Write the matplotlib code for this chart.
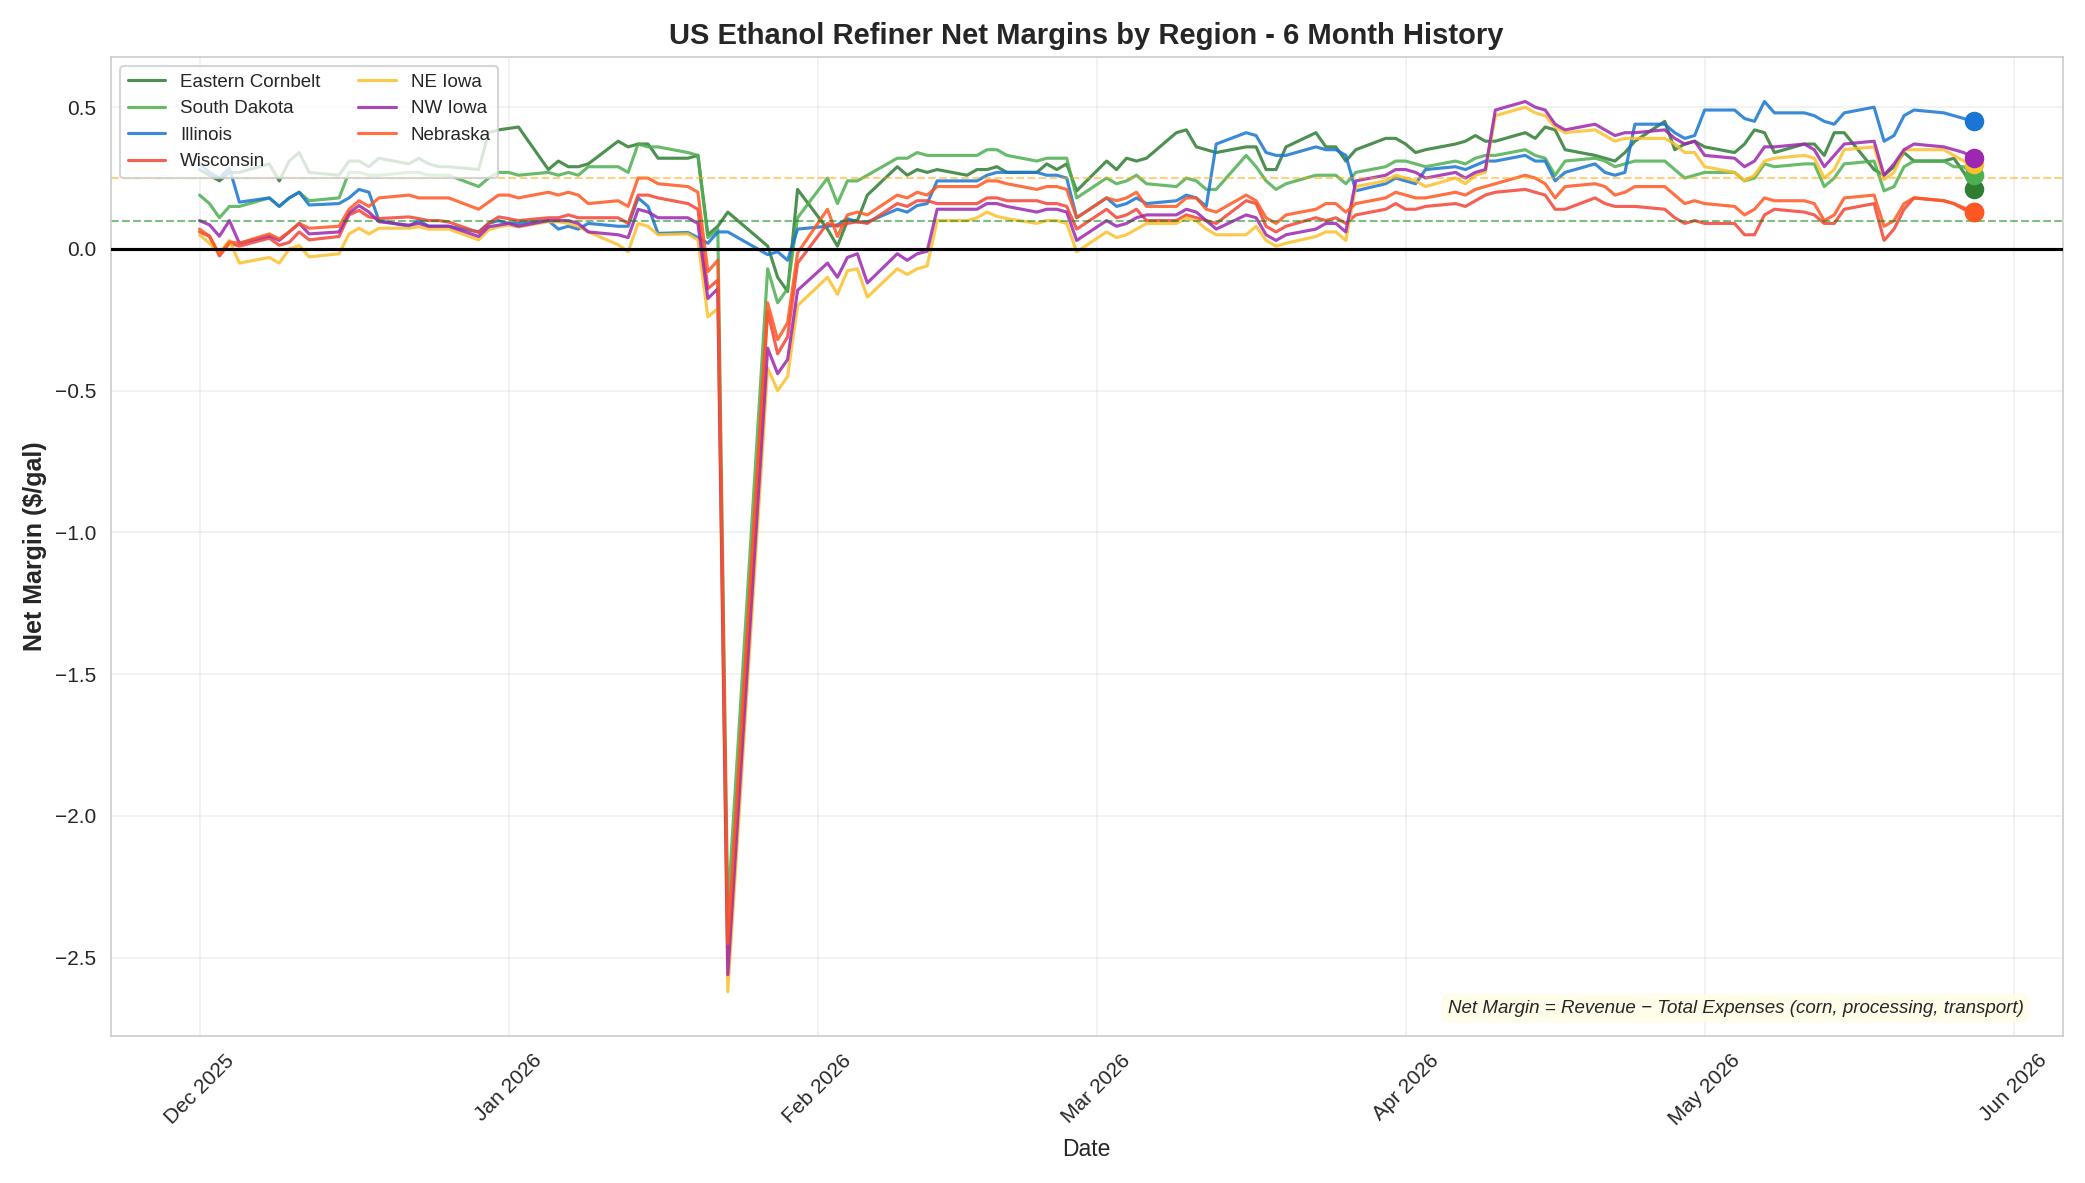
import numpy as np
import pandas as pd
import matplotlib
matplotlib.use("Agg")
import matplotlib.pyplot as plt
import matplotlib.dates as mdates
import seaborn as sns

# ---------------- data ----------------
dates = pd.bdate_range("2025-12-01", "2026-05-28").drop(pd.Timestamp("2026-01-26"))

regions = ["Eastern Cornbelt", "South Dakota", "Illinois", "Wisconsin",
           "NE Iowa", "NW Iowa", "Nebraska"]

eastern_cornbelt = [
    0.28, 0.26, 0.24, 0.27, 0.27,
    0.30, 0.24, 0.31, 0.34, 0.27,
    0.26, 0.31, 0.31, 0.29, 0.32,
    0.30, 0.32, 0.30, 0.29, 0.29,
    0.28, 0.41, 0.42, 0.425, 0.43,
    0.28, 0.31, 0.29, 0.29, 0.30,
    0.38, 0.36, 0.37, 0.37, 0.32,
    0.32, 0.33, 0.05, 0.08, 0.13,
    0.01, -0.10, -0.15, 0.21,
    0.07, 0.01, 0.10, 0.10, 0.19,
    0.29, 0.26, 0.28, 0.27, 0.28,
    0.26, 0.28, 0.28, 0.29, 0.27,
    0.27, 0.30, 0.28, 0.30, 0.205,
    0.31, 0.28, 0.32, 0.31, 0.32,
    0.41, 0.42, 0.36, 0.35, 0.34,
    0.36, 0.36, 0.28, 0.28, 0.36,
    0.41, 0.36, 0.36, 0.31, 0.35,
    0.39, 0.39, 0.37, 0.34, 0.35,
    0.37, 0.38, 0.40, 0.38, 0.38,
    0.41, 0.39, 0.43, 0.42, 0.35,
    0.33, 0.32, 0.31, 0.34, 0.38,
    0.45, 0.35, 0.37, 0.38, 0.36,
    0.34, 0.37, 0.42, 0.41, 0.34,
    0.37, 0.37, 0.33, 0.41, 0.41,
    0.28, 0.26, 0.29, 0.34, 0.31,
    0.31, 0.32, 0.27, 0.21,
]

south_dakota = [
    0.19, 0.16, 0.11, 0.15, 0.15,
    0.18, 0.15, 0.18, 0.20, 0.17,
    0.18, 0.27, 0.27, 0.26, 0.26,
    0.27, 0.27, 0.26, 0.26, 0.26,
    0.22, 0.25, 0.27, 0.27, 0.26,
    0.27, 0.26, 0.27, 0.26, 0.29,
    0.29, 0.27, 0.37, 0.36, 0.36,
    0.34, 0.33, 0.04, 0.07, -2.33,
    -0.07, -0.19, -0.14, 0.11,
    0.25, 0.16, 0.24, 0.24, 0.26,
    0.32, 0.32, 0.34, 0.33, 0.33,
    0.33, 0.33, 0.35, 0.35, 0.33,
    0.31, 0.32, 0.32, 0.32, 0.18,
    0.25, 0.23, 0.24, 0.26, 0.23,
    0.22, 0.25, 0.24, 0.21, 0.21,
    0.33, 0.29, 0.24, 0.21, 0.23,
    0.26, 0.26, 0.26, 0.23, 0.27,
    0.29, 0.31, 0.31, 0.30, 0.29,
    0.31, 0.30, 0.32, 0.33, 0.33,
    0.35, 0.33, 0.32, 0.26, 0.31,
    0.32, 0.31, 0.29, 0.30, 0.31,
    0.31, 0.28, 0.25, 0.26, 0.27,
    0.27, 0.24, 0.25, 0.30, 0.29,
    0.30, 0.30, 0.22, 0.25, 0.30,
    0.31, 0.205, 0.22, 0.29, 0.31,
    0.31, 0.29, 0.29, 0.26,
]

illinois = [
    0.30, 0.27, 0.25, 0.285, 0.165,
    0.18, 0.15, 0.18, 0.20, 0.155,
    0.16, 0.18, 0.21, 0.20, 0.10,
    0.08, 0.10, 0.08, 0.08, 0.08,
    0.06, 0.09, 0.10, 0.09, 0.09,
    0.10, 0.07, 0.08, 0.07, 0.09,
    0.08, 0.08, 0.18, 0.15, 0.055,
    0.058, 0.04, 0.02, 0.06, 0.06,
    -0.02, -0.01, -0.04, 0.07,
    0.08, 0.085, 0.107, 0.095, 0.095,
    0.14, 0.13, 0.153, 0.16, 0.24,
    0.24, 0.24, 0.26, 0.27, 0.27,
    0.27, 0.26, 0.26, 0.25, 0.11,
    0.18, 0.15, 0.16, 0.18, 0.16,
    0.17, 0.19, 0.18, 0.15, 0.37,
    0.41, 0.40, 0.34, 0.33, 0.33,
    0.36, 0.35, 0.35, 0.33, 0.205,
    0.23, 0.25, 0.24, 0.23, 0.28,
    0.29, 0.28, 0.295, 0.31, 0.31,
    0.33, 0.31, 0.31, 0.24, 0.27,
    0.30, 0.27, 0.26, 0.27, 0.44,
    0.44, 0.41, 0.39, 0.40, 0.49,
    0.49, 0.46, 0.45, 0.52, 0.48,
    0.48, 0.47, 0.45, 0.44, 0.48,
    0.50, 0.38, 0.40, 0.47, 0.49,
    0.48, 0.47, 0.46, 0.45,
]

wisconsin = [
    0.06, 0.045, -0.025, 0.02, 0.01,
    0.038, 0.013, 0.023, 0.06, 0.032,
    0.044, 0.12, 0.136, 0.113, 0.107,
    0.113, 0.107, 0.10, 0.10, 0.095,
    0.058, 0.09, 0.113, 0.107, 0.10,
    0.11, 0.11, 0.12, 0.11, 0.11,
    0.11, 0.09, 0.19, 0.19, 0.18,
    0.16, 0.14, -0.14, -0.11, -2.50,
    -0.22, -0.37, -0.31, -0.05,
    0.09, 0.08, 0.09, 0.096, 0.09,
    0.16, 0.15, 0.17, 0.17, 0.16,
    0.16, 0.16, 0.18, 0.18, 0.17,
    0.17, 0.16, 0.16, 0.15, 0.07,
    0.14, 0.11, 0.12, 0.14, 0.10,
    0.10, 0.12, 0.11, 0.10, 0.09,
    0.17, 0.16, 0.08, 0.06, 0.08,
    0.11, 0.10, 0.11, 0.09, 0.12,
    0.14, 0.16, 0.14, 0.14, 0.15,
    0.16, 0.15, 0.17, 0.19, 0.20,
    0.21, 0.20, 0.19, 0.14, 0.14,
    0.18, 0.16, 0.15, 0.15, 0.15,
    0.14, 0.11, 0.09, 0.10, 0.09,
    0.09, 0.05, 0.05, 0.12, 0.14,
    0.13, 0.12, 0.09, 0.09, 0.14,
    0.16, 0.03, 0.07, 0.14, 0.18,
    0.17, 0.16, 0.14, 0.13,
]

ne_iowa = [
    0.05, 0.02, -0.015, 0.03, -0.05,
    -0.03, -0.05, 0.0, 0.012, -0.028,
    -0.017, 0.053, 0.073, 0.053, 0.073,
    0.073, 0.078, 0.07, 0.07, 0.07,
    0.032, 0.067, 0.078, 0.084, 0.078,
    0.096, 0.096, 0.09, 0.08, 0.06,
    0.015, -0.01, 0.09, 0.08, 0.05,
    0.053, 0.032, -0.24, -0.21, -2.62,
    -0.42, -0.50, -0.45, -0.20,
    -0.10, -0.16, -0.077, -0.07, -0.17,
    -0.07, -0.09, -0.07, -0.06, 0.10,
    0.10, 0.11, 0.13, 0.115, 0.107,
    0.09, 0.10, 0.10, 0.09, -0.01,
    0.06, 0.04, 0.05, 0.07, 0.09,
    0.09, 0.11, 0.10, 0.07, 0.05,
    0.05, 0.08, 0.03, 0.01, 0.02,
    0.044, 0.06, 0.06, 0.03, 0.22,
    0.24, 0.26, 0.25, 0.24, 0.22,
    0.25, 0.23, 0.26, 0.27, 0.47,
    0.50, 0.48, 0.47, 0.43, 0.41,
    0.42, 0.40, 0.38, 0.39, 0.39,
    0.39, 0.37, 0.34, 0.34, 0.29,
    0.27, 0.24, 0.26, 0.31, 0.32,
    0.33, 0.32, 0.25, 0.28, 0.35,
    0.36, 0.245, 0.27, 0.35, 0.35,
    0.35, 0.33, 0.31, 0.30,
]

nw_iowa = [
    0.10, 0.085, 0.045, 0.10, 0.02,
    0.046, 0.03, 0.06, 0.09, 0.053,
    0.06, 0.127, 0.153, 0.13, 0.096,
    0.084, 0.09, 0.08, 0.08, 0.08,
    0.044, 0.078, 0.084, 0.09, 0.08,
    0.10, 0.10, 0.10, 0.09, 0.06,
    0.05, 0.04, 0.14, 0.13, 0.11,
    0.11, 0.09, -0.175, -0.14, -2.56,
    -0.35, -0.44, -0.39, -0.146,
    -0.05, -0.10, -0.03, -0.017, -0.12,
    -0.017, -0.04, -0.017, -0.008, 0.14,
    0.14, 0.14, 0.16, 0.16, 0.15,
    0.13, 0.14, 0.14, 0.13, 0.03,
    0.10, 0.08, 0.09, 0.11, 0.12,
    0.12, 0.14, 0.13, 0.10, 0.07,
    0.12, 0.11, 0.05, 0.03, 0.05,
    0.07, 0.09, 0.09, 0.06, 0.24,
    0.26, 0.28, 0.28, 0.27, 0.25,
    0.27, 0.25, 0.27, 0.28, 0.49,
    0.52, 0.50, 0.49, 0.44, 0.42,
    0.44, 0.42, 0.40, 0.41, 0.41,
    0.42, 0.39, 0.37, 0.38, 0.33,
    0.32, 0.29, 0.31, 0.36, 0.36,
    0.37, 0.35, 0.29, 0.33, 0.37,
    0.38, 0.26, 0.30, 0.35, 0.37,
    0.36, 0.35, 0.34, 0.32,
]

nebraska = [
    0.07, 0.045, -0.02, 0.025, 0.02,
    0.053, 0.035, 0.06, 0.09, 0.073,
    0.08, 0.14, 0.17, 0.15, 0.18,
    0.19, 0.18, 0.18, 0.18, 0.18,
    0.14, 0.165, 0.19, 0.19, 0.18,
    0.20, 0.19, 0.20, 0.19, 0.16,
    0.17, 0.15, 0.25, 0.25, 0.23,
    0.22, 0.20, -0.08, -0.04, -2.45,
    -0.19, -0.32, -0.26, -0.014,
    0.14, 0.044, 0.12, 0.13, 0.12,
    0.19, 0.18, 0.20, 0.19, 0.22,
    0.22, 0.22, 0.24, 0.24, 0.23,
    0.21, 0.22, 0.22, 0.21, 0.11,
    0.18, 0.17, 0.18, 0.20, 0.15,
    0.15, 0.18, 0.18, 0.14, 0.13,
    0.19, 0.17, 0.11, 0.09, 0.12,
    0.14, 0.16, 0.16, 0.13, 0.16,
    0.18, 0.20, 0.19, 0.18, 0.18,
    0.20, 0.19, 0.21, 0.22, 0.23,
    0.26, 0.25, 0.23, 0.18, 0.22,
    0.23, 0.22, 0.19, 0.20, 0.22,
    0.22, 0.19, 0.16, 0.17, 0.16,
    0.15, 0.12, 0.14, 0.18, 0.17,
    0.17, 0.16, 0.10, 0.12, 0.18,
    0.19, 0.08, 0.10, 0.16, 0.18,
    0.17, 0.16, 0.145, 0.13,
]

colors = ["#2E7D32", "#4CAF50", "#1976D2", "#F44336",
          "#FBC02D", "#9C27B0", "#FF5722"]

breakeven = 0.10
target = 0.25

# ---------------- plot ----------------
sns.set_style("whitegrid")
plt.rcParams["font.family"] = ["Liberation Sans", "DejaVu Sans"]

fig, ax = plt.subplots(figsize=(2085 / 150, 1183 / 150), dpi=150)

series = [eastern_cornbelt, south_dakota, illinois, wisconsin,
          ne_iowa, nw_iowa, nebraska]
for name, vals, col in zip(regions, series, colors):
    assert len(vals) == len(dates), (name, len(vals), len(dates))
    ax.plot(dates, vals, color=col, linewidth=1.5, alpha=0.85, label=name)
    ax.scatter([dates[-1]], [vals[-1]], color=col, s=70, zorder=5)

ax.axhline(0, color="black", linewidth=1.5, zorder=3)
ax.axhline(breakeven, color="green", linestyle="--", linewidth=1, alpha=0.5)
ax.axhline(target, color="orange", linestyle="--", linewidth=1, alpha=0.5)

ax.grid(True, alpha=0.3)
for sp in ax.spines.values():
    sp.set_color("#cccccc")

ax.set_title("US Ethanol Refiner Net Margins by Region - 6 Month History",
             fontsize=14, fontweight="bold")
ax.set_xlabel("Date", fontsize=11)
ax.set_ylabel("Net Margin ($/gal)", fontsize=12, fontweight="bold")

ax.xaxis.set_major_locator(mdates.MonthLocator())
ax.xaxis.set_major_formatter(mdates.DateFormatter("%b %Y"))
plt.setp(ax.get_xticklabels(), rotation=45)
ax.tick_params(labelsize=10)

ax.legend(loc="upper left", ncol=2, fontsize=9, framealpha=0.8)

ax.text(0.98, 0.02,
        "Net Margin = Revenue \u2212 Total Expenses (corn, processing, transport)",
        transform=ax.transAxes, ha="right", va="bottom", fontsize=9,
        style="italic",
        bbox=dict(boxstyle="round,pad=0.3", facecolor="#FFFDE7",
                  edgecolor="none", alpha=0.9))

fig.tight_layout()
fig.savefig("out.png", dpi=150)
